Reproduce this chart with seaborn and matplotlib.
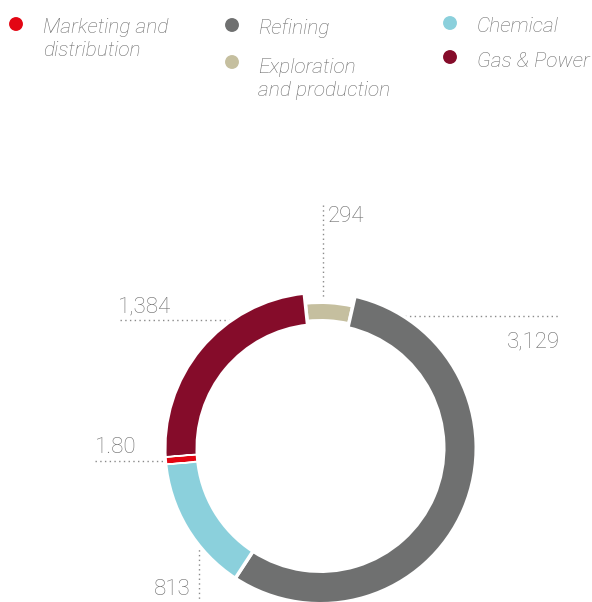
import matplotlib
matplotlib.use("Agg")
import matplotlib.pyplot as plt
import matplotlib.patheffects as pe
import numpy as np
import seaborn as sns

# Segment data (clockwise from the top of the ring)
segments = ["Exploration and production", "Refining", "Chemical",
            "Marketing and distribution", "Gas & Power"]
values = [294, 3129, 813, 1.80, 1384]
value_labels = ["294", "3,129", "813", "1.80", "1,384"]
seg_colors = ["#c5bf9f", "#6f7070", "#8bd0dc", "#e30613", "#850c2a"]

# Legend entries (column by column)
legend_names = ["Marketing and distribution", "Refining",
                "Exploration and production", "Chemical", "Gas & Power"]
legend_lines = [["Marketing and", "distribution"], ["Refining"],
                ["Exploration", "and production"], ["Chemical"], ["Gas & Power"]]

sns.set_theme(style="white")
plt.rcParams["font.family"] = ["Roboto", "DejaVu Sans"]

W, H = 592, 602
fig = plt.figure(figsize=(W / 100, H / 100), dpi=100)
ax = fig.add_axes([0, 0, 1, 1])

TEXT = "#6c6c6c"
LEAD = "#8a8a8a"
DOT = (0, (1, 2.4))

def Y(y):
    return H - y

# ---- donut ----
cx, cy = 320.5, 448
r_out, r_in = 154, 125
gap_lw = 2.5  # points
gap_px = gap_lw * 100 / 72
wedges, _ = ax.pie(values, colors=seg_colors, startangle=96, counterclock=False,
                   radius=r_out + gap_px / 2, center=(cx, Y(cy)),
                   wedgeprops=dict(width=(r_out - r_in) + gap_px,
                                   edgecolor="white", linewidth=gap_lw))
for w in wedges:
    w.set_zorder(2)

# exploration segment: slimmer band
wedges[0].set_radius(144 + gap_px / 2)
wedges[0].set_width(15 + gap_px)

# marketing segment: thin red bar with a white halo
red_lw = 3.4
red_px = red_lw * 100 / 72
wr = wedges[3]
wr.set_edgecolor(seg_colors[3])
wr.set_linewidth(red_lw)
wr.set_radius(r_out - red_px / 2)
wr.set_width((r_out - r_in) - red_px)
wr.set_zorder(3)
wr.set_path_effects([pe.Stroke(linewidth=6.4, foreground="white"), pe.Normal()])

ax.set_xlim(0, W)
ax.set_ylim(0, H)
ax.set_aspect("equal")
ax.axis("off")

# position of the red bar (clockwise degrees from top)
start = 90 - 96
cum = np.cumsum([0] + values)
frac = cum / cum[-1] * 360
red_theta = np.deg2rad(start + (frac[3] + frac[4]) / 2)
red_y = cy - r_out * np.cos(red_theta)

num_kw = dict(fontsize=16, color=TEXT, fontweight="light", va="baseline", zorder=4)
lead_kw = dict(color=LEAD, lw=1.0, linestyle=DOT, zorder=1)

# 294
ax.plot([323, 323], [Y(205), Y(298)], **lead_kw)
ax.text(328, Y(222), value_labels[0], ha="left", **num_kw)
# 3,129
ax.plot([400, 560], [Y(316), Y(316)], **lead_kw)
ax.text(560, Y(347), value_labels[1], ha="right", **num_kw)
# 1,384
ax.plot([120, 240], [Y(320), Y(320)], **lead_kw)
ax.text(118, Y(312), value_labels[4], ha="left", **num_kw)
# 1.80
ax.plot([95, 168], [Y(red_y), Y(red_y)], **lead_kw)
ax.text(95, Y(red_y - 8), value_labels[3], ha="left", **num_kw)
# 813
ax.plot([199, 199], [Y(545), Y(602)], **lead_kw)
ax.text(154, Y(595), value_labels[2], ha="left", **num_kw)

# ---- legend ----
color_of = dict(zip(segments, seg_colors))
dot_pos = [(16, 24), (232, 25), (232, 62), (450, 23), (450, 57)]
text_pos = [(43, 33), (258, 34), (258, 73), (477, 32), (477, 67)]
leg_kw = dict(fontsize=15, color=TEXT, fontweight="light", style="italic",
              va="baseline", ha="left")
for name, lines, (dx, dy), (tx, ty) in zip(legend_names, legend_lines, dot_pos, text_pos):
    ax.scatter([dx], [Y(dy)], s=100, color=color_of[name], edgecolor="none", zorder=4)
    for i, line in enumerate(lines):
        ax.text(tx, Y(ty + 23 * i), line, **leg_kw)

fig.savefig("out.png", dpi=100)
